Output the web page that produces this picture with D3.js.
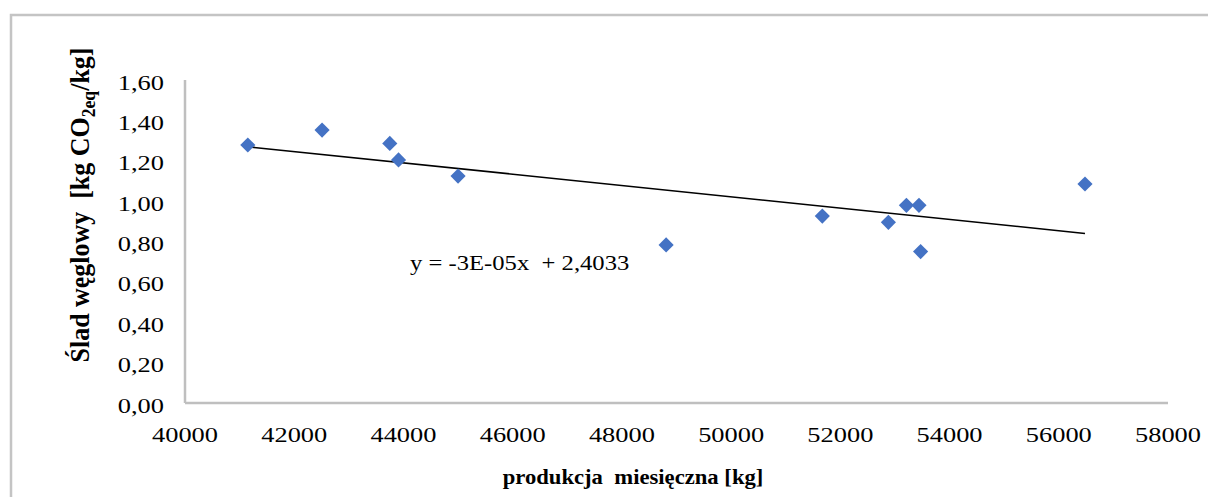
<!DOCTYPE html>
<html lang="pl">
<head>
    <meta charset="UTF-8">
    <title>Ślad węglowy a produkcja miesięczna</title>
    <script src="https://d3js.org/d3.v7.min.js"></script>
    <style>
        body { margin: 0; background: #fff; }
        text { font-family: "Liberation Serif", "Times New Roman", serif; fill: #000; white-space: pre; }
        .tick-label { font-size: 22px; }
        .title { font-size: 22px; font-weight: bold; }
    </style>
</head>
<body>
<div id="chart"></div>
<script>
    // dane
    const produkcja = [41150, 42510, 43750, 43910, 45000, 48810, 51670, 52880, 53210, 53440, 53470, 56480];
    const sladWeglowy = [1.278, 1.352, 1.286, 1.204, 1.124, 0.783, 0.926, 0.895, 0.979, 0.979, 0.750, 1.085];
    const xTicks = [40000, 42000, 44000, 46000, 48000, 50000, 52000, 54000, 56000, 58000];
    const yTicks = [0, 0.2, 0.4, 0.6, 0.8, 1.0, 1.2, 1.4, 1.6];
    const rownanie = "y = -3E-05x  + 2,4033";

    const W = 1208, H = 497;
    const sx = 1.2; // tekst w oryginale jest rozciągnięty w poziomie

    const svg = d3.select("#chart").append("svg")
        .attr("width", W).attr("height", H);

    // ramka wykresu
    svg.append("rect")
        .attr("x", 11).attr("y", 15)
        .attr("width", W + 20).attr("height", H + 20)
        .attr("fill", "#fff")
        .attr("stroke", "#c4c4c4")
        .attr("stroke-width", 2.5);

    const x = d3.scaleLinear().domain([40000, 58000]).range([185, 1168]);
    const y = d3.scaleLinear().domain([0, 1.6]).range([403, 80]);

    // osie (tylko linie, bez znaczników)
    svg.append("line")
        .attr("x1", x(40000)).attr("x2", x(40000))
        .attr("y1", y(1.6)).attr("y2", y(0))
        .attr("stroke", "#bfbfbf").attr("stroke-width", 2.5);
    svg.append("line")
        .attr("x1", x(40000)).attr("x2", x(58000))
        .attr("y1", y(0)).attr("y2", y(0))
        .attr("stroke", "#bfbfbf").attr("stroke-width", 2.5);

    const fmtY = d => d3.format(".2f")(d).replace(".", ",");

    svg.selectAll(".ylab")
        .data(yTicks)
        .enter().append("text")
        .attr("class", "tick-label")
        .attr("text-anchor", "end")
        .attr("transform", d => `translate(164,${y(d) + 9.5}) scale(${sx},1)`)
        .text(fmtY);

    svg.selectAll(".xlab")
        .data(xTicks)
        .enter().append("text")
        .attr("class", "tick-label")
        .attr("text-anchor", "middle")
        .attr("transform", d => `translate(${x(d)},442) scale(${sx},1)`)
        .text(d => d);

    // linia trendu - metoda najmniejszych kwadratów
    const mx = d3.mean(produkcja), my = d3.mean(sladWeglowy);
    let sxy = 0, sxx = 0;
    produkcja.forEach((v, i) => {
        sxy += (v - mx) * (sladWeglowy[i] - my);
        sxx += (v - mx) * (v - mx);
    });
    const a = sxy / sxx, b = my - a * mx;
    const x0 = d3.min(produkcja), x1 = d3.max(produkcja);

    svg.append("line")
        .attr("x1", x(x0)).attr("y1", y(a * x0 + b))
        .attr("x2", x(x1)).attr("y2", y(a * x1 + b))
        .attr("stroke", "#000").attr("stroke-width", 1.6);

    // punkty (romby)
    const romb = d3.symbol().type(d3.symbolSquare).size(115);
    svg.selectAll(".pkt")
        .data(produkcja.map((v, i) => [v, sladWeglowy[i]]))
        .enter().append("path")
        .attr("d", romb)
        .attr("transform", d => `translate(${x(d[0])},${y(d[1])}) rotate(45)`)
        .attr("fill", "#4472c4");

    // równanie trendu
    svg.append("text")
        .attr("class", "tick-label")
        .attr("transform", `translate(410,270) scale(1.12,1)`)
        .text(rownanie);

    // tytuły osi
    svg.append("text")
        .attr("class", "title")
        .attr("text-anchor", "middle")
        .attr("transform", `translate(633,484) scale(1.03,1)`)
        .text("produkcja  miesięczna [kg]");

    const yt = svg.append("text")
        .attr("class", "title")
        .attr("text-anchor", "middle")
        .attr("transform", `translate(89,205) scale(${sx},1.18) rotate(-90)`);
    yt.append("tspan").text("Ślad węglowy  [kg CO");
    yt.append("tspan").attr("dy", 5).style("font-size", "15px").text("2eq");
    yt.append("tspan").attr("dy", -5).text("/kg]");
</script>
</body>
</html>
